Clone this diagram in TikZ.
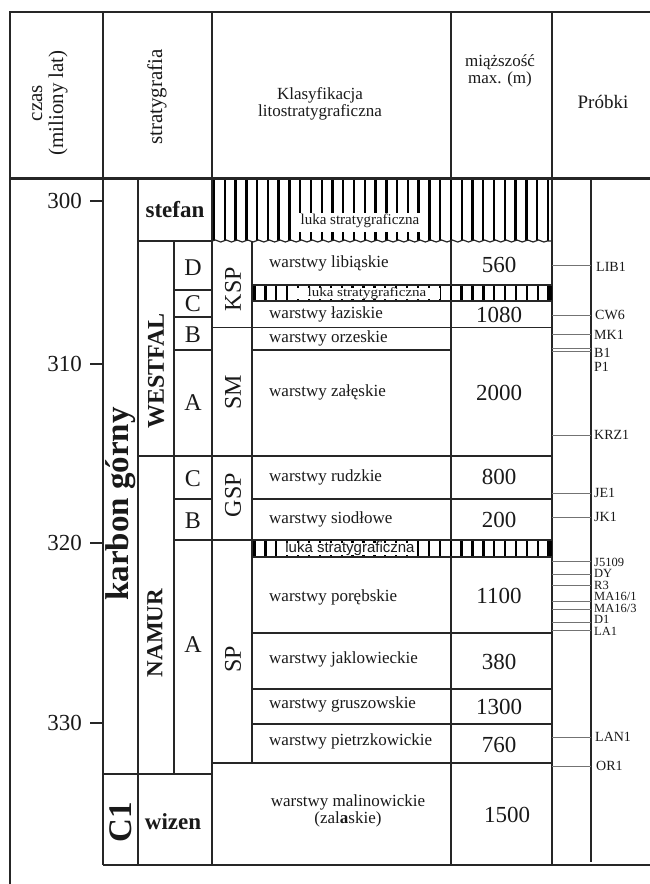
\documentclass[tikz,border=0pt]{standalone}
\usepackage{fontspec}
\setmainfont{Liberation Serif}
\newfontfamily\sansf{Liberation Sans}
\usetikzlibrary{decorations.pathmorphing}
\newcommand\fsz[1]{\fontsize{#1}{#1}\selectfont}
\tikzset{
  grid/.style={line width=1.4pt, draw=black!85},
  hatchline/.style={line width=2.3pt, draw=black},
  sampletick/.style={line width=1pt, draw=black!55},
  txt/.style={inner sep=0pt, text=black!90},
  hdr/.style={txt, align=center},
  lito/.style={txt, anchor=west, font=\fsz{17}},
  num/.style={txt, font=\fsz{23}},
  letter/.style={txt, font=\fsz{24}},
  rotl/.style={txt, rotate=90, font=\fsz{24}},
  smp/.style={txt, anchor=west, font=\fsz{14}},
  smps/.style={txt, anchor=west, font=\fsz{12.5}},
  tlab/.style={txt, anchor=east, font=\fsz{23}},
  whitebox/.style={fill=white, draw=none}
}
\begin{document}
\begin{tikzpicture}[x=1pt,y=-1pt]
\useasboundingbox (0,0) rectangle (650,884);
% ---------- vertical lines
\draw[grid, line width=2pt] (10,11) -- (10,884);
\draw[grid] (103,12) -- (103,865);
\draw[grid] (212,12) -- (212,865);
\draw[grid] (451,12) -- (451,178);
\draw[grid] (451,241) -- (451,865);
\draw[grid] (552,12) -- (552,865);
\draw[grid] (138,179) -- (138,865);
\draw[grid] (174,241) -- (174,774);
\draw[grid] (252,241) -- (252,763);
\draw[grid] (591,179) -- (591,862);
% ---------- horizontal lines
\draw[grid, line width=2pt] (9,12) -- (650,12);
\draw[grid, line width=3pt] (9,178.5) -- (650,178.5);
\draw[grid] (138,241) -- (212,241);
\draw[grid] (174,290) -- (212,290);
\draw[grid] (174,317) -- (212,317);
\draw[grid] (212,327.5) -- (552,327.5);
\draw[grid] (174,350) -- (212,350);
\draw[grid] (252,350) -- (451,350);
\draw[grid] (138,456) -- (552,456);
\draw[grid] (174,499) -- (212,499);
\draw[grid] (252,499) -- (552,499);
\draw[grid] (252,633) -- (552,633);
\draw[grid] (252,689) -- (552,689);
\draw[grid] (252,724) -- (552,724);
\draw[grid] (212,763) -- (552,763);
\draw[grid] (103,774) -- (212,774);
\draw[grid, line width=2.5pt] (103,865) -- (650,865);
% ---------- luka stratygraficzna (stefan)
\fill[white] (213,180.5) rectangle (551,240);
\foreach \i in {0,...,31} \draw[hatchline, line width=2.4pt] ({214+10.77*\i},180) -- ++(0,61);
\fill[whitebox] (297,213) rectangle (422,232);
\node[txt, font=\fsz{15}] (luka1) at (360,221) {luka stratygraficzna};
\draw[line width=1.2pt, black!85, decorate, decoration={snake, amplitude=1pt, segment length=10.77pt}] (212,241) -- (552,241);
% ---------- luka 2
\fill[white] (253,285) rectangle (551,301);
\foreach \i in {0,...,27} \draw[hatchline] ({254.5+10.9*\i},285) -- ++(0,16);
\fill[black] (547,285) rectangle (552,301);
\fill[whitebox] (292,287.5) rectangle (440,299);
\node[txt, font=\fsz{15}, yscale=0.85] (luka2) at (367,293) {luka stratygraficzna};
\draw[grid] (252,285) -- (552,285);
\draw[grid] (252,301) -- (552,301);
% ---------- luka 3
\fill[white] (253,540) rectangle (551,557);
\foreach \i in {0,...,27} \draw[hatchline] ({254.5+10.9*\i},540) -- ++(0,17);
\fill[black] (547,540) rectangle (552,557);
\fill[whitebox] (282,542.5) rectangle (417,555);
\node[txt, font=\sansf\fsz{15}] (luka3) at (350,549) {luka stratygraficzna};
\draw[grid] (174,540) -- (552,540);
\draw[grid] (252,557) -- (552,557);
% ---------- header texts
\node[hdr, rotate=90, font=\fsz{21}] (czas) at (50,103) {czas\\(miliony lat)};
\node[hdr, rotate=90, font=\fsz{21}] (strat) at (157,97) {stratygrafia};
\node[hdr, font=\fsz{17}] (klas) at (320,104) {Klasyfikacja\\litostratygraficzna};
\node[hdr, font=\fsz{17}] (miaz) at (500,71) {miąższość\\max. (m)};
\node[hdr, font=\fsz{19}] (probki) at (603,102) {Próbki};
% ---------- time axis
\foreach \y/\v in {201/300,364/310,543/320,723/330} {
  \draw[grid] (90,\y) -- (103,\y);
  \node[tlab] (t\v) at (82,\y) {\v};
}
% ---------- stratigraphy
\node[txt, rotate=90, font=\bfseries\fsz{33}] (karbon) at (121,504) {karbon górny};
\node[txt, rotate=90, font=\bfseries\fsz{33}] (c1) at (121,822) {C1};
\node[txt, font=\bfseries\fsz{23}] (stefan) at (175,210) {stefan};
\node[txt, font=\bfseries\fsz{23}] (wizen) at (173,822) {wizen};
\node[txt, rotate=90, font=\bfseries\fsz{24}] (westfal) at (156,371) {WESTFAL};
\node[txt, rotate=90, font=\bfseries\fsz{23}] (namur) at (155,633) {NAMUR};
\node[letter] (wd) at (193,268) {D};
\node[letter] (wc) at (193,304) {C};
\node[letter] (wb) at (193,335) {B};
\node[letter] (wa) at (193,403) {A};
\node[letter] (nc) at (193,479) {C};
\node[letter] (nb) at (193,521) {B};
\node[letter] (na) at (193,645) {A};
\node[rotl] (ksp) at (233,289) {KSP};
\node[rotl] (sm) at (233,392) {SM};
\node[rotl] (gsp) at (233,495) {GSP};
\node[rotl] (sp) at (233,659) {SP};
% ---------- lithostratigraphy
\node[lito] (l1) at (269,263) {warstwy libiąskie};
\node[lito] (l2) at (269,314) {warstwy łaziskie};
\node[lito] (l3) at (269,338) {warstwy orzeskie};
\node[lito] (l4) at (269,392) {warstwy załęskie};
\node[lito] (l5) at (269,477) {warstwy rudzkie};
\node[lito] (l6) at (269,519) {warstwy siodłowe};
\node[lito] (l7) at (269,597) {warstwy porębskie};
\node[lito] (l8) at (269,659) {warstwy jaklowieckie};
\node[lito] (l9) at (269,704) {warstwy gruszowskie};
\node[lito] (l10) at (269,741) {warstwy pietrzkowickie};
\node[hdr, font=\fsz{17}] (l11) at (348,811) {warstwy malinowickie\\(zal{\bfseries a}skie)};
% ---------- thickness
\node[num] (m1) at (499,265) {560};
\node[num] (m2) at (499,315) {1080};
\node[num] (m3) at (499,393) {2000};
\node[num] (m4) at (499,477) {800};
\node[num] (m5) at (499,520) {200};
\node[num] (m6) at (499,596) {1100};
\node[num] (m7) at (499,662) {380};
\node[num] (m8) at (499,707) {1300};
\node[num] (m9) at (499,745) {760};
\node[num] (m10) at (507,815) {1500};
% ---------- samples
\foreach \y in {265,315,334,348.5,351,435,493,517,561,574,585,601,609,622,630,737,766}
  \draw[sampletick] (552,\y) -- (591,\y);
\node[smp] (s1) at (596,267) {LIB1};
\node[smp] (s2) at (595,315) {CW6};
\node[smp] (s3) at (594,335) {MK1};
\node[smp] (s4) at (594,353) {B1};
\node[smp] (s5) at (594,367) {P1};
\node[smp] (s6) at (594,435) {KRZ1};
\node[smp] (s7) at (594,493) {JE1};
\node[smp] (s8) at (594,517) {JK1};
\node[smps] (s9) at (594,562) {J5109};
\node[smps] (s10) at (594,573.5) {DY};
\node[smps] (s11) at (594,585) {R3};
\node[smps] (s12) at (594,596.5) {MA16/1};
\node[smps] (s13) at (594,608) {MA16/3};
\node[smps] (s14) at (594,619.5) {D1};
\node[smps] (s15) at (594,631) {LA1};
\node[smp] (s16) at (595,737) {LAN1};
\node[smp] (s17) at (596,766) {OR1};
\end{tikzpicture}
\end{document}
